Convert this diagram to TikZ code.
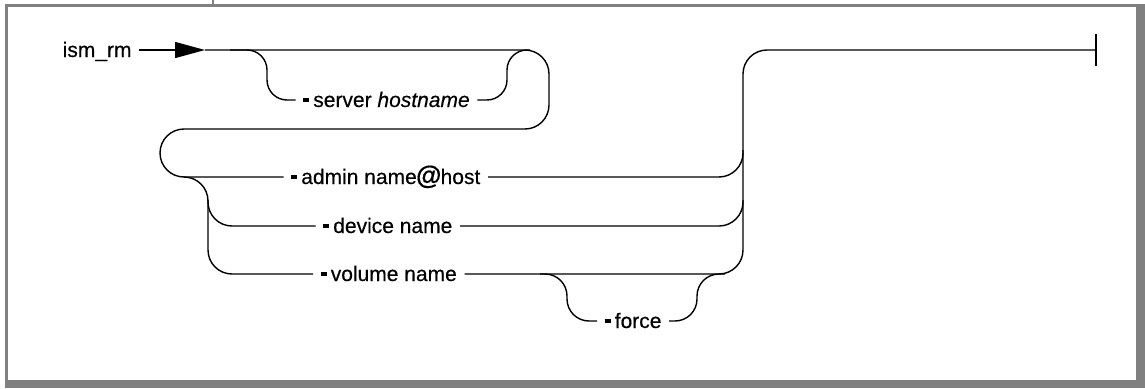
\documentclass[tikz,border=0pt]{standalone}
\usepackage{fontspec}
\setmainfont{Liberation Sans}[FakeBold=0.35]
\usetikzlibrary{arrows.meta}
\definecolor{framegray}{RGB}{128,128,128}
\newcommand\optdash{\rule[0.23em]{0.28em}{0.205em}\hspace{0.2em}}
\begin{document}
\begin{tikzpicture}[x=1pt,y=-1pt,line width=1.4pt,
  rr/.style={rounded corners=24pt},
  rs/.style={rounded corners=20pt},
  rf/.style={rounded corners=22pt},
  lbl/.style={inner xsep=7pt,inner ysep=0pt,text height=17pt,text depth=3pt,anchor=west,
    font=\fontsize{21}{25}\selectfont},
  framepart/.style={fill=framegray,draw=none}]
\useasboundingbox (0,0) rectangle (1145,388);
% frame
\fill[framepart] (5,4) rectangle (1145,6.5);
\fill[framepart] (5,4) rectangle (7.5,388);
\fill[framepart] (1136,4) rectangle (1145,388);
\fill[framepart] (5,380) rectangle (1145,388);
\fill[framepart] (212.3,0) rectangle (213.8,4);
% labels
\node[lbl] (ism) at (55,50) {ism\_rm};
\node[lbl] (srv) at (295.5,100) {\optdash server \textit{hostname}};
\node[lbl] (adm) at (283.5,177) {\optdash admin name{\fontsize{26}{26}\selectfont\bfseries\kern-0.03em @\kern-0.03em}host};
\node[lbl] (dev) at (315.5,226) {\optdash device name};
\node[lbl] (vol) at (313,274) {\optdash volume name};
\node[lbl] (frc) at (597,321) {\optdash force};
% coordinates
\coordinate (tip) at (205,50);
\coordinate (endb) at (1096,50);
% entry arrow
\draw[-{Triangle[length=30pt,width=16pt]}] (ism.east) -- (tip);
% main line
\draw[rr] (tip) -- (549,50) -- (549,129) -- (160,129) -- (160,177) -- (adm.west);
\draw[rr] (adm.east) -- (743,177) -- (743,150);
\draw[rr] (vol.east) -- (743,274) -- (743,50) -- (endb);
\draw ([yshift=-16pt]endb) -- ([yshift=16pt]endb);
% server branch
\draw[rs] (230,50) -- (267,50) -- (267,100) -- (srv.west);
\draw[rs] (srv.east) -- (507,100) -- (507,50) -- (530,50);
% device branch
\draw[rr] (184,177) -- (208,177) -- (208,226) -- (dev.west);
\draw[rr] (dev.east) -- (743,226) -- (743,200);
% volume branch
\draw[rr] (208,200) -- (208,274) -- (vol.west);
% force branch
\draw[rf] (540,274) -- (567,274) -- (567,321) -- (frc.west);
\draw[rf] (frc.east) -- (697,321) -- (697,274) -- (725,274);
\end{tikzpicture}
\end{document}
